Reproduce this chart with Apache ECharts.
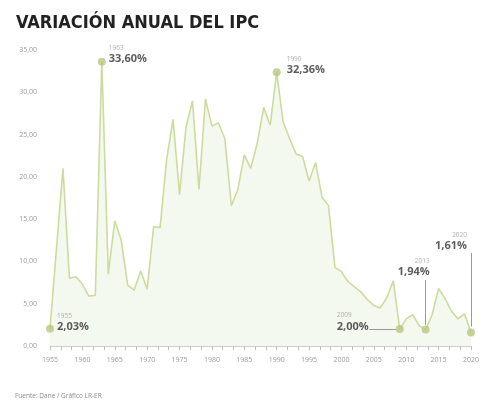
<!DOCTYPE html>
<html>
<head>
<meta charset="utf-8">
<script src="https://cdn.jsdelivr.net/npm/echarts@6/dist/echarts.min.js"></script>
<style>
html,body{margin:0;padding:0;background:#fff;}
#c{width:482px;height:405px;}
</style>
</head>
<body>
<div id="c"></div>
<script>
const years = [1955,1956,1957,1958,1959,1960,1961,1962,1963,1964,1965,1966,1967,1968,1969,
  1970,1971,1972,1973,1974,1975,1976,1977,1978,1979,1980,1981,1982,1983,1984,1985,1986,1987,1988,1989,
  1990,1991,1992,1993,1994,1995,1996,1997,1998,1999,2000,2001,2002,2003,2004,2005,2006,2007,2008,2009,
  2010,2011,2012,2013,2014,2015,2016,2017,2018,2019,2020];
const ipc = [2.03,11.5,21.0,8.0,8.2,7.3,5.9,6.0,33.60,8.5,14.8,12.5,7.2,6.6,8.9,
  6.7,14.1,14.0,22.0,26.8,17.9,25.9,29.0,18.5,29.2,26.0,26.4,24.5,16.6,18.5,22.6,21.0,24.0,28.2,26.1,
  32.36,26.5,24.5,22.7,22.4,19.5,21.7,17.6,16.6,9.3,8.8,7.6,7.0,6.4,5.5,4.8,4.5,5.7,7.7,2.00,
  3.2,3.7,2.4,1.94,3.7,6.8,5.6,4.1,3.2,3.8,1.61];
const highlightYears = [1955,1963,1990,2009,2013,2020];
const yTicks = [0,5,10,15,20,25,30,35];
const xTicks = [1955,1960,1965,1970,1975,1980,1985,1990,1995,2000,2005,2010,2015,2020];
const titleText = 'VARIACIÓN ANUAL DEL IPC';
const sourceText = 'Fuente: Dane / Gráfico LR-ER';

const fmt = v => v.toFixed(2).replace('.', ',');

// label placement per highlighted year (layout only)
const labelLayout = {
  1955: {position:[11,-13], align:'left', verticalAlign:'top', yearAlign:'left'},
  1963: {position:[11,-14], align:'left', verticalAlign:'top', yearAlign:'left'},
  1990: {position:[14,-14], align:'left', verticalAlign:'top', yearAlign:'left'},
  2009: {position:[-27,-14], align:'right', verticalAlign:'top', yearAlign:'left'},
  2013: {position:[8,-47], align:'right', verticalAlign:'bottom', yearAlign:'right'},
  2020: {position:[0,-76], align:'right', verticalAlign:'bottom', yearAlign:'right'}
};

const lineData = years.map((y,i)=>[y, ipc[i]]);
const pointData = highlightYears.map(y=>{
  const v = ipc[years.indexOf(y)];
  const L = labelLayout[y];
  return {
    value:[y, v],
    label:{
      show:true,
      position:L.position,
      align:L.align,
      verticalAlign:L.verticalAlign,
      formatter: '{y|' + y + '}\n{v|' + fmt(v) + '%}',
      rich:{
        y:{fontSize:6.5, color:'#9a9a9a', lineHeight:9, align:L.yearAlign, fontFamily:'Open Sans'},
        v:{fontSize:11, fontWeight:'bold', color:'#333', lineHeight:13, fontFamily:'Open Sans', align:L.yearAlign}
      }
    }
  };
});

const chart = echarts.init(document.getElementById('c'), null, {renderer:'canvas'});
chart.setOption({
  animation:false,
  backgroundColor:'#ffffff',
  title:[
    {text:titleText, left:11, top:9,
     textStyle:{fontFamily:'Liberation Sans Narrow, DejaVu Sans Condensed, Open Sans', fontWeight:'bold', fontSize:18, color:'#222'}},
    {text:sourceText, left:10, top:388,
     textStyle:{fontFamily:'Open Sans', fontWeight:'normal', fontSize:6.5, color:'#8a8a8a'}}
  ],
  grid:{left:50, right:8, top:50, bottom:59},
  xAxis:{
    type:'value', min:xTicks[0], max:xTicks[xTicks.length-1], interval:5,
    axisLine:{show:true, lineStyle:{color:'#cfcfcf', width:1}},
    axisTick:{show:true, length:4, lineStyle:{color:'#bdbdbd'}},
    minorTick:{show:true, splitNumber:3, length:4, lineStyle:{color:'#bdbdbd'}},
    splitLine:{show:false},
    axisLabel:{fontSize:7, color:'#9a9a9a', margin:10, fontFamily:'Open Sans',
      formatter: v => String(v)}
  },
  yAxis:{
    type:'value', min:yTicks[0], max:yTicks[yTicks.length-1], interval:5,
    axisLine:{show:false}, axisTick:{show:false}, splitLine:{show:false},
    axisLabel:{fontSize:7, color:'#9a9a9a', margin:13, fontFamily:'Open Sans', formatter: v => fmt(v)}
  },
  series:[
    {
      type:'line', data:lineData, symbol:'none', smooth:false,
      lineStyle:{color:'#cddb9f', width:1.6},
      areaStyle:{color:'#f0f6e8'},
      z:2
    },
    {
      type:'scatter', data:pointData, symbol:'circle', symbolSize:8,
      itemStyle:{color:'#b7c77f'},
      z:4,
      markLine:{
        silent:true, symbol:'none',
        lineStyle:{color:'#9a9a9a', width:1, type:'solid'},
        label:{show:false},
        data:[
          [{coord:[2004.3, 2.0]},{coord:[2008.4, 2.0]}],
          [{coord:[2013, 7.8]},{coord:[2013, 2.5]}],
          [{coord:[2020, 11.0]},{coord:[2020, 2.3]}]
        ]
      }
    }
  ]
});
</script>
</body>
</html>
